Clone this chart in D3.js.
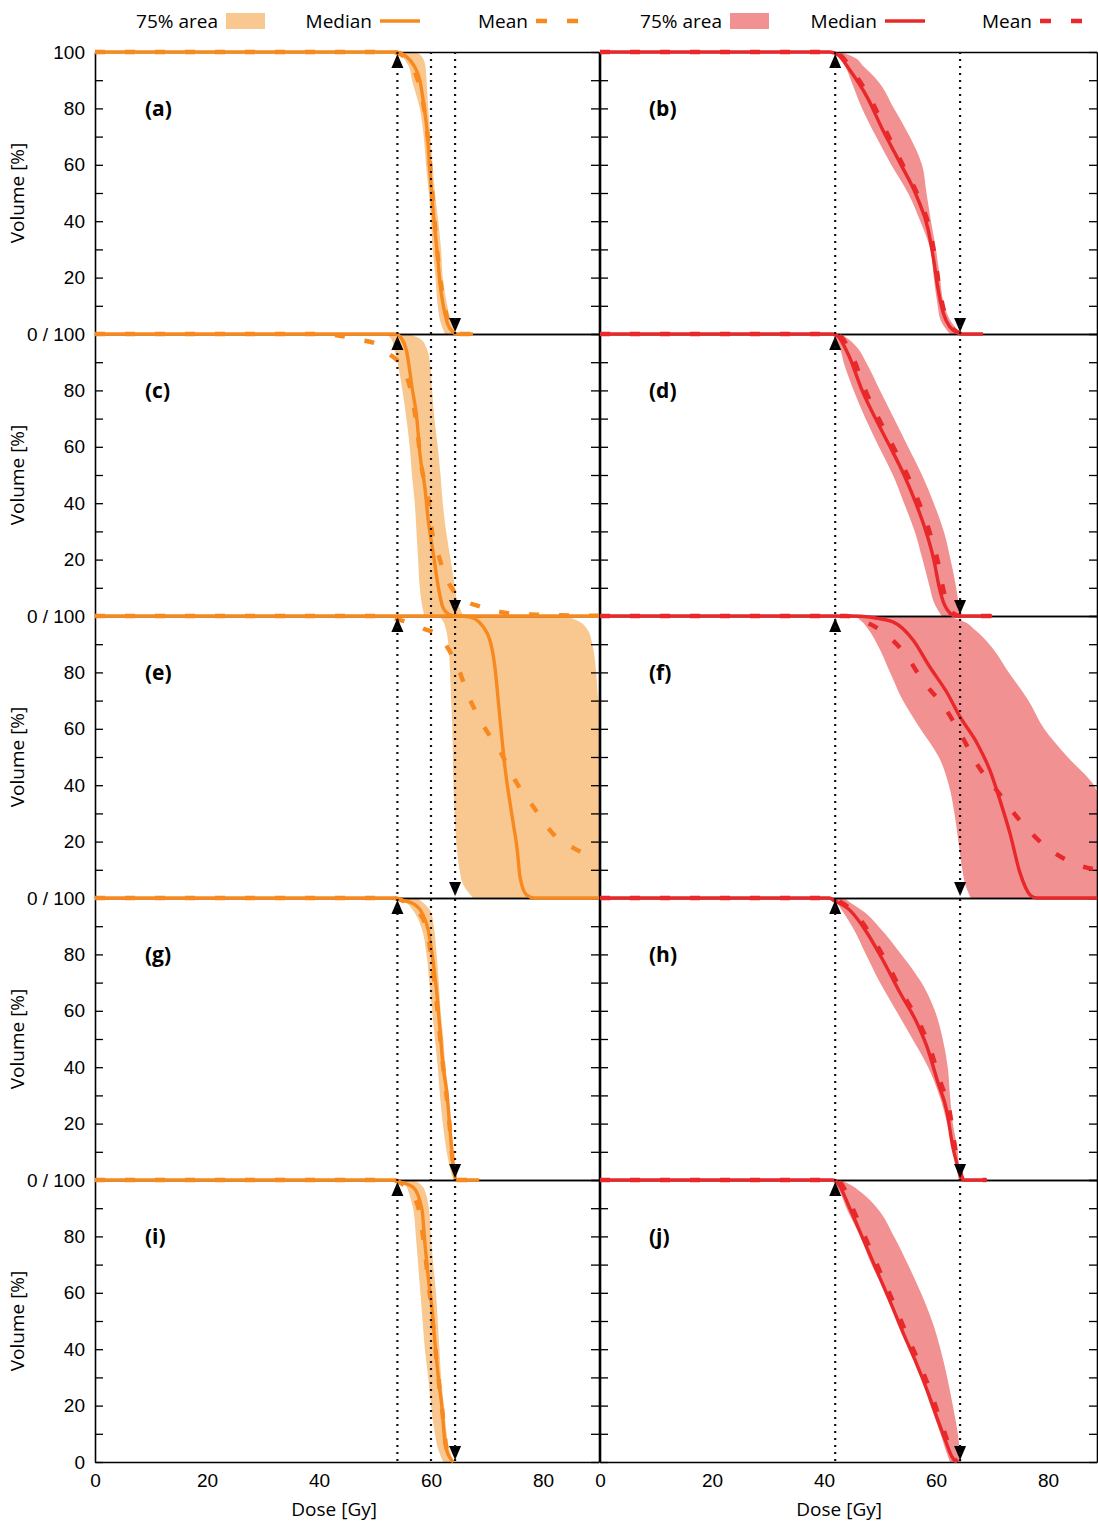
<!DOCTYPE html>
<html>
<head>
<meta charset="utf-8">
<script src="https://cdn.jsdelivr.net/npm/d3@7"></script>
<style>
  body { margin: 0; background: #fff; }
  svg { font-family: "Open Sans", sans-serif; }
</style>
</head>
<body>
<script>
// ---- data: dose [Gy] / volume [%] ----
const panelLabels = ['(a)','(b)','(c)','(d)','(e)','(f)','(g)','(h)','(i)','(j)'];
const doseLabels = [0, 20, 40, 60, 80];
const volLabels = [20, 40, 60, 80, 100];
const refDoses = [[54, 60, 64.3], [42, 64.3]];   // dotted lines per column
const upMarker = [54, 42];
const downMarker = [64.3, 64.3];
const legendNames = ['75% area', 'Median', 'Mean'];

// median curves, [dose, volume]
const medianCurves = [
  [[0,100],[53.5,100],[55.7,98.2],[57,95],[58,90],[58.8,80],[59.3,72],[59.8,58],[60.2,48],[60.7,37],[61.2,27],[61.6,18],[62.2,10],[62.9,4],[63.9,0.7],[64.5,0],[67.5,0]],
  [[0,100],[41,100],[42.5,99],[44.6,93.6],[47.7,84],[50.5,72.3],[53.6,60.6],[56.6,48.6],[58.6,37],[59.5,27.3],[60.4,15.6],[61.3,7.4],[62.5,2.5],[63.8,0.7],[64.5,0],[68.4,0]],
  [[0,100],[53.5,100],[54.5,99],[55.7,93.3],[56.6,81.2],[57.5,69.5],[58,57.8],[58.9,45.7],[59.5,34],[60.4,22.3],[61.3,10.3],[62.1,3.2],[63.4,0.4],[64.5,0],[90,0]],
  [[0,100],[41.5,100],[42.3,99.5],[44.5,92],[46.8,80],[49.2,70],[51.8,60],[54.3,50],[56.4,40],[58.2,30],[59.6,20],[60.6,10],[61.5,4],[62.5,1],[63.5,0],[70,0]],
  [[0,100],[65,100],[67,99.6],[70,94],[71.4,82],[72.3,64],[73.2,46.5],[74.5,28.7],[75.4,17],[75.9,7.4],[77.1,1],[78.5,0],[90,0]],
  [[0,100],[45,100],[48.2,99.6],[52.3,97.9],[55.9,91.5],[58.9,81.9],[62,72.7],[64.3,64.2],[67.3,55],[69.6,45.4],[71.4,34.8],[73.2,23],[75,8.9],[76.8,1.1],[78,0],[90,0]],
  [[0,100],[53.5,100],[54.5,99.3],[56.6,98.2],[58.4,94.7],[59.5,88.7],[60.4,77],[61.1,64.9],[61.6,53.2],[62.1,41.5],[62.9,29.4],[63.4,17.7],[63.9,6],[64.3,1],[64.8,0],[68.6,0]],
  [[0,100],[41,100],[41.6,99.3],[44.6,95.7],[47.7,87.6],[50.5,78],[53.6,66.3],[56.6,55.7],[58.4,47.2],[60.2,35.5],[62,23.8],[63,11.7],[63.9,4.6],[64.3,1.8],[64.8,0],[69.1,0]],
  [[0,100],[53.5,100],[54.5,99.3],[56.8,97.5],[58.4,89.4],[58.9,77.7],[59.5,65.6],[60.2,53.9],[60.7,42.2],[61.3,30.1],[62,18.4],[62.5,6.7],[63.4,1.4],[64,0]],
  [[0,100],[41.5,100],[42.3,99.3],[44.6,90],[47,79],[49.5,67.5],[52,56],[54.3,45],[56.5,35],[58.5,25],[60.3,15],[61.8,7],[62.8,2],[63.6,0]]
];

// mean curves, [dose, volume]
const meanCurves = [
  [[0,100],[53,100],[55.5,98],[57.3,92],[58.6,82],[59.4,70],[59.9,58],[60.4,46],[60.9,34],[61.5,22],[62.2,12],[63,5],[64,1],[65,0],[67,0]],
  [[0,100],[41,100],[42.8,99],[45.2,93],[48.4,83],[51.3,71],[54.3,59],[57.2,47],[59,36],[59.9,26],[60.7,15],[61.6,7],[62.8,2.3],[64,0.5],[65,0],[68,0]],
  [[0,100],[40,100],[44,99.3],[47,98],[50.3,96.5],[52.5,93],[54.7,88.5],[56.7,77],[57.6,65],[58.3,53],[59.5,42],[60.1,31],[61.5,20.5],[62.6,14],[64,9],[66,5.5],[69.2,3.2],[72,1.6],[75.2,0.7],[80,0.4],[85,0.2],[90,0.1]],
  [[0,100],[41.5,100],[42.8,99.3],[45.2,91.5],[47.5,79.5],[49.9,69.5],[52.5,59.5],[55,49.5],[57.1,39.5],[58.9,29.5],[60.3,19.5],[61.3,9.5],[62.2,3.6],[63.2,0.8],[64.2,0],[70,0]],
  [[0,100],[50,100],[53,99.3],[56.2,97.5],[58.7,95.5],[61.4,93],[63.2,88],[64.7,82.3],[66.7,71.6],[69.4,61],[72.4,51.8],[75,41.8],[78.3,32.3],[81.7,23],[86.4,16.7],[90,13.5]],
  [[0,100],[44,100],[46.5,98.5],[49.3,96],[54.5,86.5],[57.8,76.6],[61.6,67.4],[64.5,57.8],[67.4,47.2],[70.8,38.3],[75.2,27],[79.5,18.4],[84.5,12.4],[88.8,10]],
  [[0,100],[53,100],[55.5,98.5],[57.8,95],[59.2,89],[60.2,77],[60.9,65],[61.5,53],[62.1,41.5],[62.8,29.5],[63.4,17.7],[63.9,6],[64.3,1],[64.8,0],[68,0]],
  [[0,100],[41,100],[42.2,99.2],[45.1,95.5],[48.2,87.4],[51,77.8],[54.1,66],[57.1,55.4],[58.9,47],[60.7,35.3],[62.5,23.6],[63.4,11.5],[64.2,4.4],[64.5,1.5],[65,0],[69,0]],
  [[0,100],[53,100],[54.5,99],[56.3,96],[57.9,89],[58.7,78],[59.4,66],[60.1,54],[60.7,42],[61.3,30],[62,18.4],[62.6,6.7],[63.5,1.2],[64,0]],
  [[0,100],[41.5,100],[42.8,99.2],[45.2,89.6],[47.6,78.6],[50.1,67],[52.6,55.6],[54.9,44.6],[57.1,34.6],[59.1,24.6],[60.8,14.6],[62.2,6.6],[63.1,1.8],[63.8,0]]
];

// 75% band, [volume, lower dose, upper dose]
const bandCurves = [
  [[100,54,57.5],[98,55,58.5],[95,56,59],[90,56.6,59.2],[80,58,59.5],[70,58.7,59.9],[60,59.1,60.3],[50,59.6,60.7],[40,60,61.3],[30,60.3,61.8],[20,60.8,62.1],[10,61.2,62.9],[5,61.6,63.5],[0,62.5,64.5]],
  [[100,41.5,43],[98,43,45.5],[95,43.8,47],[90,44.8,49.5],[80,46.8,52.5],[70,49.3,55.3],[60,52,57.5],[50,55,58.3],[40,57.2,59.1],[30,59,60],[20,59.6,60.7],[10,60.3,61.5],[5,60.8,62.5],[0,62.5,64.5]],
  [[100,52,56],[98,53,58.3],[95,53.4,59.2],[90,54,59.8],[80,54.9,60.2],[70,55.6,60.6],[60,56.2,61.2],[50,56.6,61.7],[40,57.1,62.1],[30,57.4,62.7],[20,57.7,63.5],[10,58,64.3],[5,58.3,64.7],[0,58.8,65.8]],
  [[100,41.5,43],[98,42,44.5],[95,42.8,46],[90,43.5,47.5],[80,45.3,50],[70,47.4,52.5],[60,49.8,55],[50,52.3,57.5],[40,54.3,59.6],[30,56.2,61.4],[20,57.6,62.6],[10,58.9,63.6],[5,59.6,64],[0,61,64.5]],
  [[100,61.5,84],[98,62.2,86.5],[95,62.7,88],[90,63.1,88.8],[80,63.4,89.5],[70,63.6,89.9],[60,63.8,91],[50,63.9,93],[40,64,93],[30,64.2,93],[20,64.5,93],[10,65.1,93],[5,65.7,93],[0,67.5,93]],
  [[100,45.5,62],[98,46.8,65],[95,48,67],[90,49.5,69.5],[80,51.8,73],[70,54.1,76.5],[60,57.2,79.3],[50,60.5,83.5],[40,62.3,88.2],[30,63.3,90],[20,64,93],[10,64.7,93],[5,65.2,93],[0,66.2,93]],
  [[100,54.5,57.5],[98,55.8,58.8],[95,57,60],[90,58.2,60.5],[80,59.2,61],[70,59.7,61.4],[60,60.2,61.7],[50,60.7,62.2],[40,61.2,62.6],[30,61.6,63.2],[20,62.1,63.6],[10,62.8,64.1],[5,63.3,64.4],[0,64,64.7]],
  [[100,41.5,43.5],[98,42.4,45],[95,43.4,47.2],[90,45,49.7],[80,47.5,53.8],[70,50,57.4],[60,52.9,59.8],[50,55.8,61.2],[40,58.6,62.1],[30,60.6,62.5],[20,62,63],[10,63.2,63.9],[5,63.7,64.1],[0,64,64.5]],
  [[100,54.5,57],[98,55.5,58.4],[95,56.1,59.1],[90,56.8,59.6],[80,57.3,60],[70,57.7,60.4],[60,58.1,60.9],[50,58.5,61.2],[40,58.9,61.5],[30,59.5,61.8],[20,60,62.3],[10,60.7,62.8],[5,61.2,63.2],[0,62.2,64]],
  [[100,41.5,43],[98,42.2,45],[95,43,47],[90,44,49.5],[80,46.5,52.5],[70,48.5,55],[60,51,57.3],[50,53.2,59.3],[40,55.3,60.8],[30,57.3,62],[20,59,63],[10,60.8,63.9],[5,61.6,64.2],[0,62.5,64.5]]
];

const lineColors = ['#f7891f', '#e8282a'];
const fillColors = ['#f9c890', '#f29191'];

// ---- layout ----
const W = 1098, H = 1522;
const rowTop = 52, rowH = 282, nRows = 5;
const cols = [{x0: 95, x1: 599, dmax: 90}, {x0: 600, x1: 1097, dmax: 88.75}];
const bottom = rowTop + nRows * rowH;

var svg = d3.select('body').append('svg')
    .attr('width', W)
    .attr('height', H);

var xScales = cols.map(c => d3.scaleLinear().domain([0, c.dmax]).range([c.x0, c.x1]));
var yScales = d3.range(nRows).map(r => d3.scaleLinear().domain([0, 100])
    .range([rowTop + (r + 1) * rowH, rowTop + r * rowH]));

var defs = svg.append('defs');
cols.forEach((c, i) => {
  defs.append('clipPath').attr('id', 'clip' + i)
    .append('rect')
    .attr('x', c.x0).attr('y', rowTop - 6)
    .attr('width', c.x1 - c.x0).attr('height', bottom - rowTop + 12);
});

var bandLayer = svg.append('g');
var frameLayer = svg.append('g');
var lineLayer = svg.append('g');
var markLayer = svg.append('g');

panelLabels.forEach((lab, p) => {
  let c = p % 2, r = Math.floor(p / 2);
  let x = xScales[c], y = yScales[r];

  // band
  var area = d3.area()
      .y(d => y(d[0]))
      .x0(d => x(d[1]))
      .x1(d => x(d[2]))
      .curve(d3.curveMonotoneY);
  bandLayer.append('path')
      .datum(bandCurves[p])
      .attr('clip-path', 'url(#clip' + c + ')')
      .attr('d', area)
      .style('fill', fillColors[c]);

  // median + mean
  var line = d3.line()
      .x(d => x(d[0]))
      .y(d => y(d[1]))
      .curve(d3.curveMonotoneX);
  lineLayer.append('path')
      .datum(medianCurves[p])
      .attr('clip-path', 'url(#clip' + c + ')')
      .attr('d', line)
      .style('fill', 'none')
      .style('stroke', lineColors[c])
      .style('stroke-width', 3.4);
  lineLayer.append('path')
      .datum(meanCurves[p])
      .attr('clip-path', 'url(#clip' + c + ')')
      .attr('d', line)
      .style('fill', 'none')
      .style('stroke', lineColors[c])
      .style('stroke-width', 4.4)
      .style('stroke-dasharray', '10,20');

  // frame + inward ticks
  var g = frameLayer.append('g');
  var minorX = d3.range(0, c.dmax + 0.01, 10);
  var minorY = d3.range(0, 101, 10);
  g.append('g').attr('transform', 'translate(0,' + y(0) + ')')
      .call(d3.axisBottom(x).tickValues(minorX).tickSize(-8).tickSizeOuter(0).tickFormat(''));
  g.append('g').attr('transform', 'translate(0,' + y(100) + ')')
      .call(d3.axisTop(x).tickValues(minorX).tickSize(-8).tickSizeOuter(0).tickFormat(''));
  g.append('g').attr('transform', 'translate(' + x.range()[0] + ',0)')
      .call(d3.axisLeft(y).tickValues(minorY).tickSize(-8).tickSizeOuter(0).tickFormat(''));
  g.append('g').attr('transform', 'translate(' + x.range()[1] + ',0)')
      .call(d3.axisRight(y).tickValues(minorY).tickSize(-8).tickSizeOuter(0).tickFormat(''));
  g.selectAll('.domain').style('stroke', '#000').style('stroke-width', 1.6);
  g.selectAll('.tick line').style('stroke', '#000').style('stroke-width', 1.3);

  // y labels on the left column
  if (c === 0) {
    let vals = r === nRows - 1 ? [0].concat(volLabels) : volLabels;
    let ya = g.append('g').attr('transform', 'translate(' + x.range()[0] + ',0)')
        .call(d3.axisLeft(y).tickValues(vals).tickSize(0).tickPadding(10)
          .tickFormat(v => v === 100 ? (r === 0 ? '100' : '0 / 100') : v));
    ya.select('.domain').remove();
    ya.selectAll('text').style('font-size', '19px').style('fill', '#000');
    g.append('text')
        .attr('transform', 'translate(24,' + y(50) + ') rotate(-90)')
        .attr('text-anchor', 'middle')
        .style('font-size', '19px')
        .style('fill', '#000')
        .text('Volume [%]');
  }
  // x labels on the bottom row
  if (r === nRows - 1) {
    let xa = g.append('g').attr('transform', 'translate(0,' + y(0) + ')')
        .call(d3.axisBottom(x).tickValues(doseLabels).tickSize(0).tickPadding(12));
    xa.select('.domain').remove();
    xa.selectAll('text').style('font-size', '19px').style('fill', '#000');
    g.append('text')
        .attr('x', x(42.7)).attr('y', y(0) + 54)
        .attr('text-anchor', 'middle')
        .style('font-size', '19px')
        .style('fill', '#000')
        .text('Dose [Gy]');
  }

  markLayer.append('text')
      .attr('x', x.range()[0] + (c === 0 ? 50 : 49))
      .attr('y', y(80) + 8)
      .style('font-size', '21px')
      .style('font-weight', 'bold')
      .style('fill', '#000')
      .text(lab);

  // triangles
  let tw = 6, th = 14;
  let ux = x(upMarker[c]), uy = y(100) + 2;
  markLayer.append('path')
      .attr('d', 'M' + ux + ',' + uy + 'L' + (ux - tw) + ',' + (uy + th) + 'L' + (ux + tw) + ',' + (uy + th) + 'Z')
      .style('fill', '#000');
  let dx = x(downMarker[c]), dy = y(0) - 2;
  markLayer.append('path')
      .attr('d', 'M' + dx + ',' + dy + 'L' + (dx - tw) + ',' + (dy - th) + 'L' + (dx + tw) + ',' + (dy - th) + 'Z')
      .style('fill', '#000');
});

// dotted reference lines through all rows
refDoses.forEach((ds, c) => {
  markLayer.selectAll(null)
    .data(ds)
    .enter().append('line')
    .attr('x1', d => xScales[c](d)).attr('x2', d => xScales[c](d))
    .attr('y1', rowTop).attr('y2', bottom)
    .style('stroke', '#111')
    .style('stroke-width', 2.2)
    .style('stroke-dasharray', '2,5');
});

// ---- legend ----
var legendX = [[218, 372, 528], [722, 877, 1032]];
cols.forEach((c, i) => {
  let lg = svg.append('g');
  legendNames.forEach((n, k) => {
    lg.append('text')
      .attr('x', legendX[i][k]).attr('y', 28)
      .attr('text-anchor', 'end')
      .style('font-size', '19px')
      .style('fill', '#000')
      .text(n);
  });
  let sx = legendX[i][0] + 8;
  lg.append('rect').attr('x', sx).attr('y', 13).attr('width', 39).attr('height', 16)
    .style('fill', fillColors[i]);
  let mx = legendX[i][1] + 8;
  lg.append('line').attr('x1', mx).attr('x2', mx + 40).attr('y1', 21).attr('y2', 21)
    .style('stroke', lineColors[i]).style('stroke-width', 3.4);
  let ex = legendX[i][2] + 8;
  lg.append('line').attr('x1', ex).attr('x2', ex + 42).attr('y1', 21).attr('y2', 21)
    .style('stroke', lineColors[i]).style('stroke-width', 4.4)
    .style('stroke-dasharray', '11,20');
});
</script>
</body>
</html>
